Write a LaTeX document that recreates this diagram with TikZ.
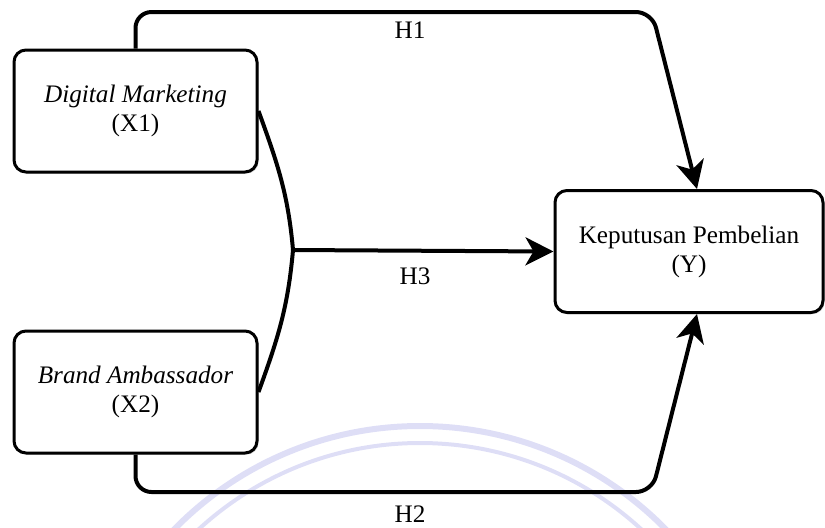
\documentclass[tikz,border=0pt]{standalone}
\usepackage{fontspec}
\setmainfont{Liberation Serif}
\usetikzlibrary{arrows.meta,shadows,calc}
\definecolor{wmark}{RGB}{222,222,246}
\begin{document}
\begin{tikzpicture}[x=0.5pt,y=-0.5pt,
  varbox/.style={draw=black, line width=1.5pt, rounded corners=6pt, fill=white,
    minimum width=121.5pt, minimum height=61pt, align=center, font=\fontsize{12.6}{14.5}\selectfont,
    drop shadow={shadow xshift=0.8pt, shadow yshift=-0.8pt, opacity=0.35}},
  link/.style={line width=2pt, rounded corners=8pt},
  tip/.style={-{Stealth[length=14pt,width=14pt,inset=4pt]}},
  hlabel/.style={font=\fontsize{12.6}{14.5}\selectfont, inner sep=0pt}]
\useasboundingbox (0,0) rectangle (825,527);
\begin{scope}
\clip (0,0) rectangle (825,527);
\draw[wmark, line width=3pt] (420,770) circle[radius=344];
\draw[wmark, line width=2pt] (420,770) circle[radius=327];
\end{scope}
\node[varbox] (X1) at (135.5,111) {\textit{Digital Marketing}\\(X1)};
\node[varbox] (X2) at (135.5,392) {\textit{Brand Ambassador}\\(X2)};
\node[varbox, minimum width=134pt] (Y) at (689,251.5) {Keputusan Pembelian\\(Y)};
\coordinate (J) at (293,250);
\coordinate (T1) at (135.5,12);
\coordinate (T2) at (652,12);
\coordinate (B1) at (135.5,492);
\coordinate (B2) at (652,492);
\draw[link, tip] (X1.north) -- (T1) -- (T2) -- ([xshift=4pt]Y.north);
\draw[link, tip] (X2.south) -- (B1) -- (B2) -- ([xshift=4pt]Y.south);
\draw[link] (X1.east) to[out=-70,in=95] (J);
\draw[link] (X2.east) to[out=70,in=-95] (J);
\draw[link, tip] (J) -- (Y.west);
\node[hlabel] (H1) at (410,30) {H1};
\node[hlabel] (H3) at (415,276) {H3};
\node[hlabel] (H2) at (410,514) {H2};
\end{tikzpicture}
\end{document}
